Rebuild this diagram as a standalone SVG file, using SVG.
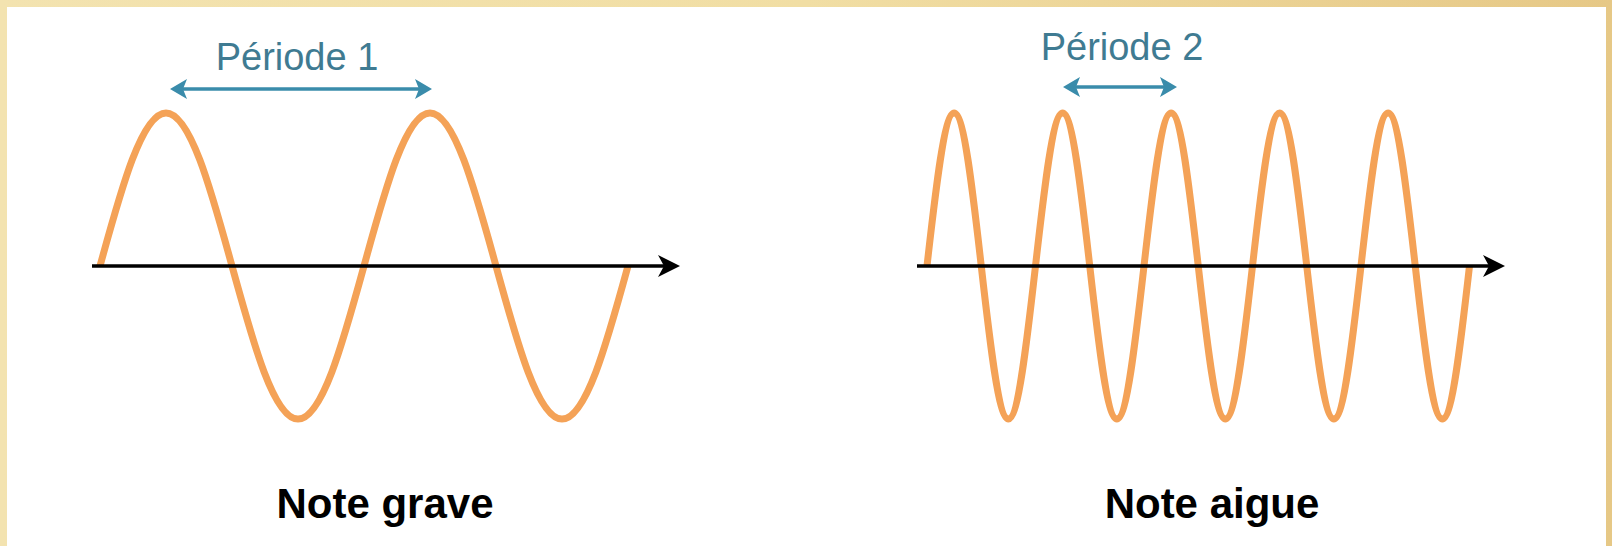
<svg xmlns="http://www.w3.org/2000/svg" width="1612" height="546" viewBox="0 0 1612 546">
  <style>
    .wave { fill: none; stroke: #f4a257; stroke-width: 7; stroke-linejoin: round; }
    .axis { stroke: #000000; stroke-width: 3.5; fill: none; }
    .period { stroke: #3a8cab; stroke-width: 3.5; fill: none; }
    .plabel { font-family: "Liberation Sans", Arial, sans-serif; font-size: 38px; fill: #3f7b92; text-anchor: middle; }
    .title { font-family: "Liberation Sans", Arial, sans-serif; font-size: 42px; font-weight: bold; fill: #000000; text-anchor: middle; }
  </style>
  <defs>
    <linearGradient id="bgGrad" x1="0" y1="0" x2="1" y2="0">
      <stop offset="0" stop-color="#f3e3b0"/>
      <stop offset="0.5" stop-color="#f1dea4"/>
      <stop offset="1" stop-color="#e6c886"/>
    </linearGradient>
    <marker id="axisHead" viewBox="-12 -12 26 24" markerWidth="26" markerHeight="24" refX="0" refY="0" orient="auto" markerUnits="userSpaceOnUse">
      <path d="M12,0 L-10,-11 L-4,0 L-10,11 Z" fill="#000000"/>
    </marker>
    <marker id="periodHead" viewBox="-9 -11 21 22" markerWidth="21" markerHeight="22" refX="0" refY="0" orient="auto-start-reverse" markerUnits="userSpaceOnUse">
      <path d="M10,0 L-7,-10 L-3,0 L-7,10 Z" fill="#3a8cab"/>
    </marker>
  </defs>

  <rect x="0" y="0" width="1612" height="546" fill="url(#bgGrad)"/>
  <rect x="7" y="7" width="1599" height="539" fill="#ffffff"/>

  <g id="grave">
    <path id="wave-grave" class="wave" d="M100,266 c21.52,-78.4 42.11,-153 66,-153 c23.89,0 44.48,74.6 66,153 c21.52,78.4 42.11,153 66,153 c23.89,0 44.48,-74.6 66,-153 c21.52,-78.4 42.11,-153 66,-153 c23.89,0 44.48,74.6 66,153 c21.52,78.4 42.11,153 66,153 c23.89,0 44.48,-74.6 66,-153"/>
    <text id="label-periode1" class="plabel" x="297" y="70">Période 1</text>
    <text id="title-grave" class="title" x="385" y="518">Note grave</text>
  </g>

  <g id="aigue">
    <path id="wave-aigue" class="wave" d="M927,266 c8.85,-78.4 17.31,-153 27.125,-153 c9.82,0 18.28,74.6 27.125,153 c8.85,78.4 17.31,153 27.125,153 c9.82,0 18.28,-74.6 27.125,-153 c8.85,-78.4 17.31,-153 27.125,-153 c9.82,0 18.28,74.6 27.125,153 c8.85,78.4 17.31,153 27.125,153 c9.82,0 18.28,-74.6 27.125,-153 c8.85,-78.4 17.31,-153 27.125,-153 c9.82,0 18.28,74.6 27.125,153 c8.85,78.4 17.31,153 27.125,153 c9.82,0 18.28,-74.6 27.125,-153 c8.85,-78.4 17.31,-153 27.125,-153 c9.82,0 18.28,74.6 27.125,153 c8.85,78.4 17.31,153 27.125,153 c9.82,0 18.28,-74.6 27.125,-153 c8.85,-78.4 17.31,-153 27.125,-153 c9.82,0 18.28,74.6 27.125,153 c8.85,78.4 17.31,153 27.125,153 c9.82,0 18.28,-74.6 27.125,-153"/>
    <text id="label-periode2" class="plabel" x="1122" y="60">Période 2</text>
    <text id="title-aigue" class="title" x="1212" y="518">Note aigue</text>
  </g>

  <g id="connectors">
    <line id="axis-grave" class="axis" x1="92" y1="266" x2="668" y2="266" marker-end="url(#axisHead)"/>
    <line id="axis-aigue" class="axis" x1="917" y1="266" x2="1493" y2="266" marker-end="url(#axisHead)"/>
    <line id="period-1" class="period" x1="180" y1="89" x2="422" y2="89" marker-start="url(#periodHead)" marker-end="url(#periodHead)"/>
    <line id="period-2" class="period" x1="1073" y1="87" x2="1167" y2="87" marker-start="url(#periodHead)" marker-end="url(#periodHead)"/>
  </g>
</svg>
